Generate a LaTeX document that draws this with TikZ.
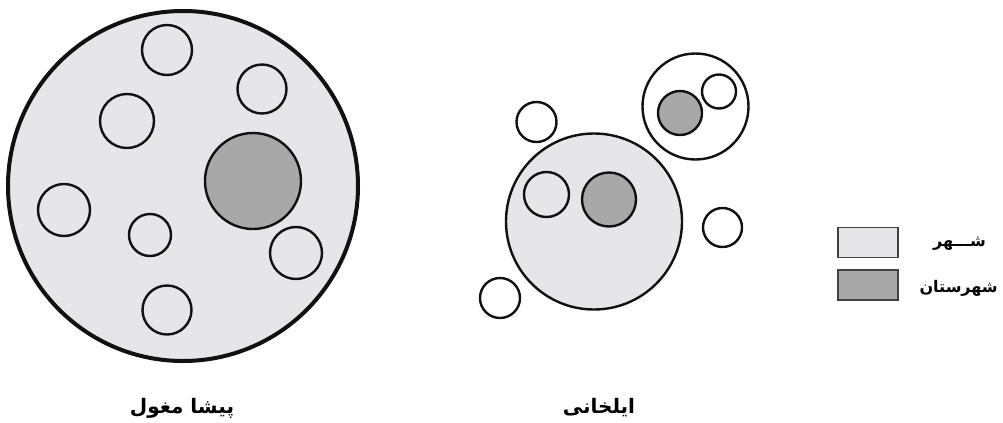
\documentclass[tikz,border=0pt]{standalone}
\usepackage{fontspec}
\TeXXeTstate=1
\newfontfamily\arabicfont[Script=Arabic]{DejaVu Sans}
\definecolor{lightfill}{HTML}{E6E6E8}
\definecolor{darkfill}{HTML}{A9A8A8}
\definecolor{edge}{HTML}{111111}
\begin{document}
\begin{tikzpicture}[x=0.75pt,y=-0.75pt,
  outer/.style={draw=edge,line width=3pt,fill=lightfill},
  ring/.style={draw=edge,line width=1.8pt},
  hollow/.style={ring,fill=white},
  lightc/.style={ring,fill=lightfill},
  darkc/.style={ring,fill=darkfill},
  legbox/.style={draw=edge!80,line width=1.4pt,minimum width=45pt,minimum height=22.5pt,inner sep=0pt},
  lab/.style={font=\arabicfont\bfseries\fontsize{15}{18}\selectfont,inner sep=0pt},
  leglab/.style={font=\arabicfont\bfseries\fontsize{12}{14}\selectfont,inner sep=0pt,anchor=east}]
\useasboundingbox (0,0) rectangle (1003,422);
% left diagram
\draw[outer] (183,186) circle[radius=175];
\draw[ring] (167,50) circle[radius=25];
\draw[ring] (262,89) circle[radius=24.5];
\draw[ring] (127,121) circle[radius=27];
\draw[darkc] (253,181) circle[radius=48];
\draw[ring] (64,210) circle[radius=26];
\draw[ring] (150,235) circle[radius=21];
\draw[ring] (296,253) circle[radius=26];
\draw[ring] (167,310) circle[radius=24.5];
% middle diagram
\draw[lightc] (594,221.5) circle[radius=88];
\draw[lightc] (546.5,194.5) circle[radius=22.5];
\draw[darkc] (609,199.5) circle[radius=27];
\draw[hollow] (695.5,106.5) circle[radius=53];
\draw[darkc] (680,113) circle[radius=22];
\draw[hollow] (719,91.5) circle[radius=17];
\draw[hollow] (536.5,122) circle[radius=20];
\draw[hollow] (722.5,227.5) circle[radius=19.5];
\draw[hollow] (500,298) circle[radius=20];
% labels
\node[lab] (pre) at (182,408) {\beginR پیشا مغول\endR};
\node[lab] (ilk) at (599,408) {\beginR ایلخانی\endR};
% legend
\node[legbox,fill=lightfill] (b1) at (868,242.5) {};
\node[legbox,fill=darkfill] (b2) at (868,285) {};
\node[leglab] (t1) at (986,244) {\beginR شـــهر\endR};
\node[leglab] (t2) at (998,288) {\beginR شهرستان\endR};
\end{tikzpicture}
\end{document}
